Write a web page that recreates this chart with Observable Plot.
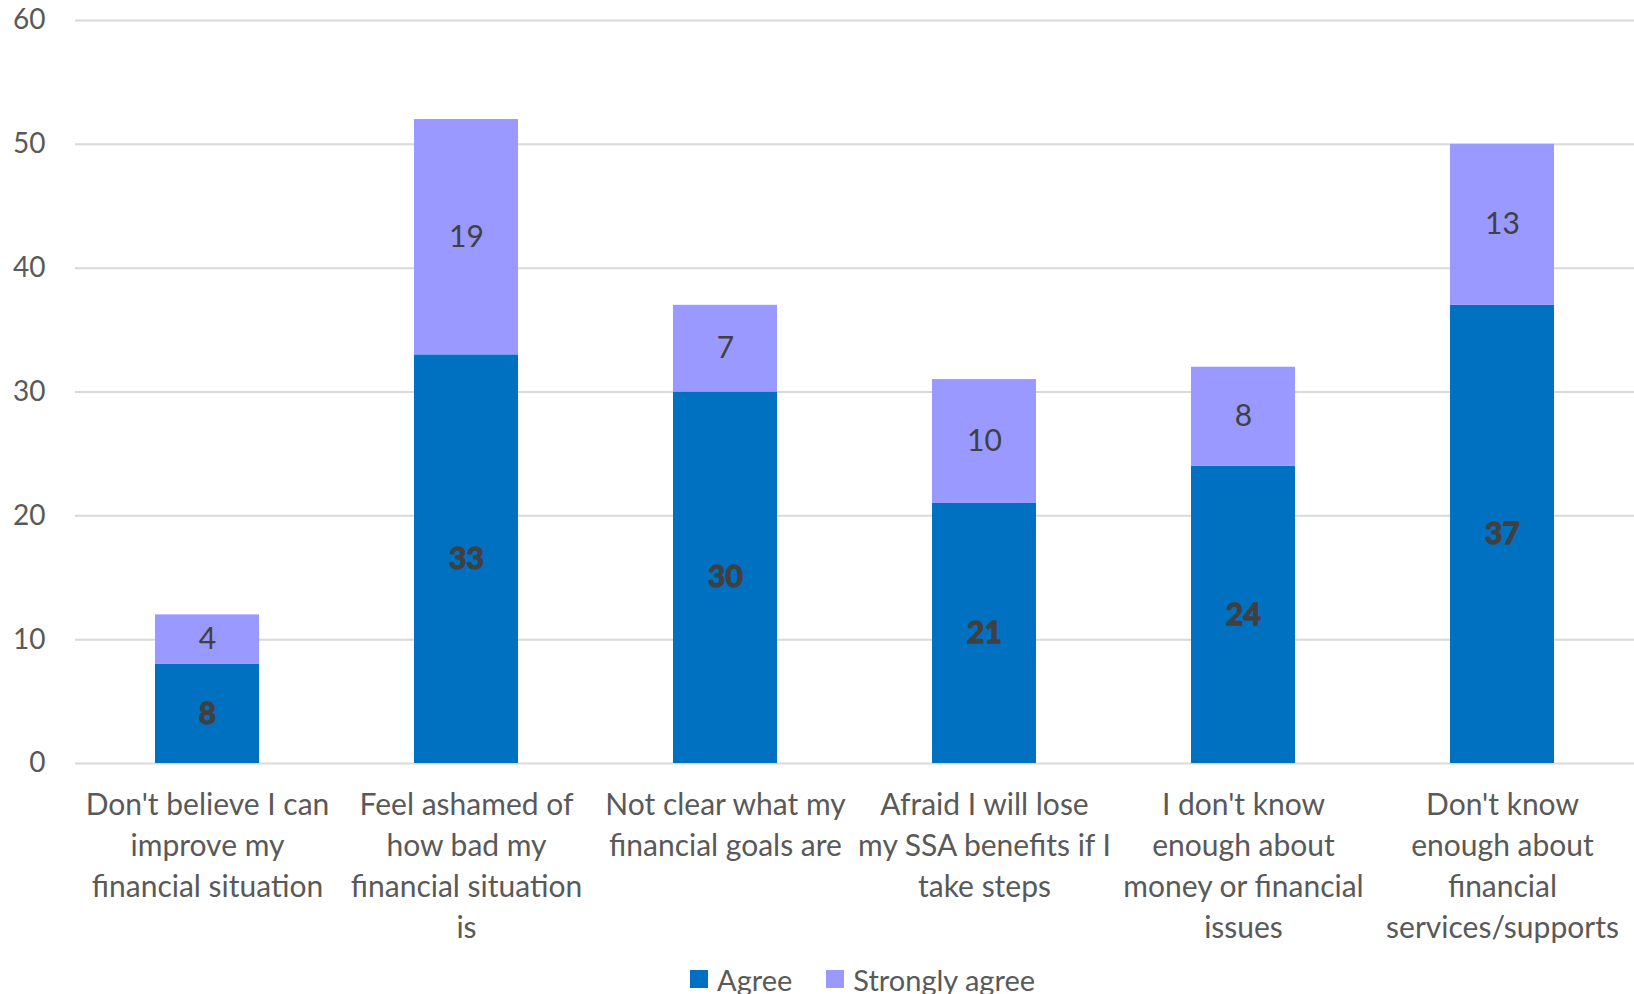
<!DOCTYPE html>
<html>
<head>
<meta charset="utf-8">
<script src="https://cdn.jsdelivr.net/npm/d3@7"></script>
<script src="https://cdn.jsdelivr.net/npm/@observablehq/plot@0.6"></script>
<style>
  html, body { margin: 0; padding: 0; background: #fff; }
  body { width: 1634px; height: 994px; overflow: hidden; font-family: Lato, "Open Sans", sans-serif; }
  #legend { height: 39px; padding-top: 9px; display: flex; align-items: center; padding-left: 690px; box-sizing: border-box; font-size: 29px; color: #595959; }
  .item { display: flex; align-items: center; margin-right: 34px; }
  .sw { width: 18px; height: 18px; margin-right: 9px; }
</style>
</head>
<body>
<div id="chart"></div>
<div id="legend"></div>
<script>
const categories = [
  "Don't believe I can\nimprove my\nfinancial situation",
  "Feel ashamed of\nhow bad my\nfinancial situation\nis",
  "Not clear what my\nfinancial goals are",
  "Afraid I will lose\nmy SSA benefits if I\ntake steps",
  "I don't know\nenough about\nmoney or financial\nissues",
  "Don't know\nenough about\nfinancial\nservices/supports"
];
const agree = [8, 33, 30, 21, 24, 37];
const stronglyAgree = [4, 19, 7, 10, 8, 13];
const seriesNames = ["Agree", "Strongly agree"];
const seriesColors = ["#0070C0", "#9999FF"];
const yTicks = [0, 10, 20, 30, 40, 50, 60];

const data = [];
categories.forEach((c, i) => {
  data.push({cat: c, series: seriesNames[0], value: agree[i]});
  data.push({cat: c, series: seriesNames[1], value: stronglyAgree[i]});
});

const chart = Plot.plot({
  width: 1634,
  height: 955,
  marginLeft: 75,
  marginRight: 0,
  marginTop: 20,
  marginBottom: 192,
  style: {fontFamily: "Lato, 'Open Sans', sans-serif", fontSize: "29px", color: "#595959", background: "#fff"},
  x: {domain: categories, paddingInner: 0.6, paddingOuter: 0.3, label: null},
  y: {domain: [0, 60], label: null},
  color: {domain: seriesNames, range: seriesColors},
  marks: [
    Plot.gridY(yTicks, {stroke: "#d9d9d9", strokeOpacity: 1, strokeWidth: 2}),
    Plot.axisY(yTicks, {tickSize: 0, tickPadding: 30, fontSize: 28, fill: "#595959", label: null}),
    Plot.axisX({tickSize: 0, tickPadding: 23, fontSize: 30, lineHeight: 1.36, fill: "#595959", label: null}),
    Plot.barY(data, {x: "cat", y: "value", fill: "series"}),
    Plot.text(data, Plot.stackY({x: "cat", y: "value", z: "series",
      text: d => d.series === seriesNames[0] ? String(d.value) : null,
      fill: "#404040", stroke: "#404040", strokeWidth: 1.3, fontWeight: "bold", fontSize: 30})),
    Plot.text(data, Plot.stackY({x: "cat", y: "value", z: "series",
      text: d => d.series === seriesNames[1] ? String(d.value) : null,
      fill: "#404040", fontSize: 30}))
  ]
});
document.getElementById("chart").appendChild(chart);

const legend = document.getElementById("legend");
seriesNames.forEach((s, i) => {
  const item = document.createElement("div");
  item.className = "item";
  const sw = document.createElement("div");
  sw.className = "sw";
  sw.style.background = seriesColors[i];
  const t = document.createElement("span");
  t.textContent = s;
  item.appendChild(sw);
  item.appendChild(t);
  legend.appendChild(item);
});
</script>
</body>
</html>
